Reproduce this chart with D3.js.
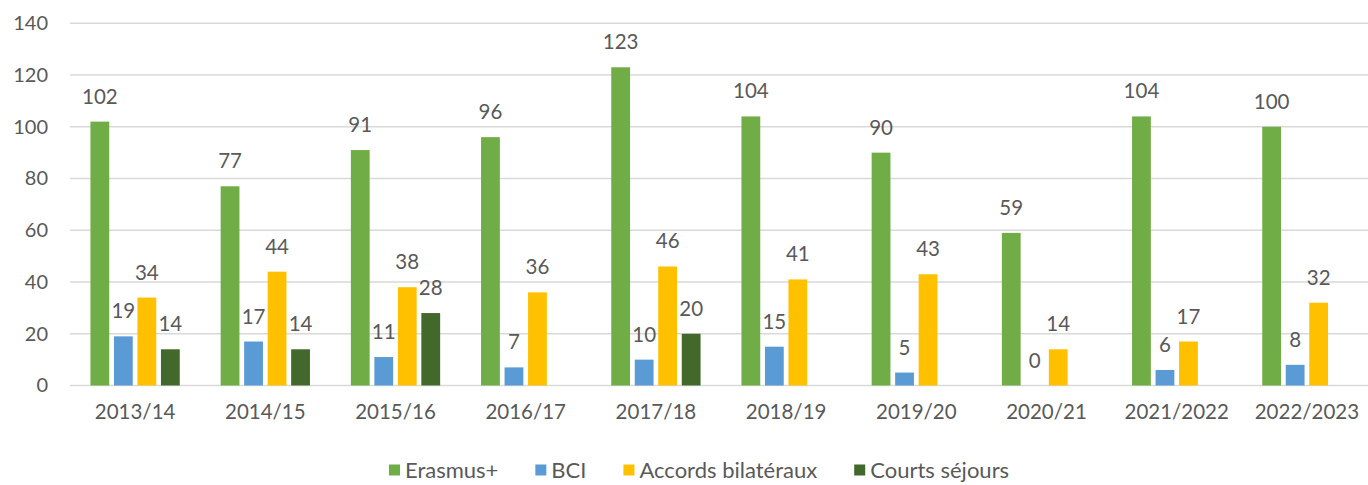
<!DOCTYPE html>
<html>
<head>
<meta charset="utf-8">
<script src="https://cdn.jsdelivr.net/npm/d3@7"></script>
<style>
  body { margin: 0; background: #fff; }
</style>
</head>
<body>
<div id="chart"></div>
<script>
var years = ["2013/14", "2014/15", "2015/16", "2016/17", "2017/18", "2018/19", "2019/20", "2020/21", "2021/2022", "2022/2023"];
var seriesNames = ["Erasmus+", "BCI", "Accords bilatéraux", "Courts séjours"];
var erasmus = [102, 77, 91, 96, 123, 104, 90, 59, 104, 100];
var bci = [19, 17, 11, 7, 10, 15, 5, 0, 6, 8];
var accords = [34, 44, 38, 36, 46, 41, 43, 14, 17, 32];
var courts = [14, 14, 28, null, 20, null, null, null, null, null];
var yTicks = [0, 20, 40, 60, 80, 100, 120, 140];
var colors = ["#70AD47", "#5B9BD5", "#FFC000", "#43682B"];

var fontFamily = "Lato, 'Open Sans', sans-serif";
var textColor = "#595959";

var width = 1368, height = 485;

var svg = d3.select("#chart")
  .append("svg")
    .attr("width", width)
    .attr("height", height);

// scales
var x = d3.scaleBand()
  .domain(years)
  .range([70, 1372]);

var groupHalf = 47;
var xSub = d3.scaleBand()
  .domain(seriesNames)
  .range([x.bandwidth() / 2 - groupHalf, x.bandwidth() / 2 + groupHalf])
  .paddingInner(0.2)
  .paddingOuter(0.1);

var y = d3.scaleLinear()
  .domain([0, 140])
  .range([385.5, 23.3]);

// gridlines
svg.append("g")
  .selectAll("line")
  .data(yTicks)
  .enter()
  .append("line")
    .attr("x1", 70)
    .attr("x2", width)
    .attr("y1", function(d) { return y(d); })
    .attr("y2", function(d) { return y(d); })
    .attr("stroke", "#D9D9D9")
    .attr("stroke-width", 1.5);

// Y axis labels
var yAxis = svg.append("g")
  .attr("transform", "translate(60,0)")
  .call(d3.axisLeft(y).tickValues(yTicks).tickSize(0).tickPadding(12));
yAxis.select(".domain").remove();
yAxis.selectAll("text")
  .attr("font-family", fontFamily)
  .attr("font-size", 20)
  .attr("fill", textColor);

// X axis labels
var xAxis = svg.append("g")
  .attr("transform", "translate(0,385.5)")
  .call(d3.axisBottom(x).tickSize(0).tickPadding(19));
xAxis.select(".domain").remove();
xAxis.selectAll("text")
  .attr("font-family", fontFamily)
  .attr("font-size", 20.5)
  .attr("fill", textColor);

// build rows
var allSeries = [erasmus, bci, accords, courts];
var rows = [];
years.forEach(function(yr, i) {
  seriesNames.forEach(function(s, j) {
    var v = allSeries[j][i];
    if (v !== null) rows.push({year: yr, series: s, value: v, idx: j});
  });
});

// bars
svg.append("g")
  .selectAll("rect")
  .data(rows)
  .enter()
  .append("rect")
    .attr("x", function(d) { return x(d.year) + xSub(d.series); })
    .attr("y", function(d) { return y(d.value); })
    .attr("width", xSub.bandwidth())
    .attr("height", function(d) { return y(0) - y(d.value); })
    .attr("fill", function(d) { return colors[d.idx]; });

// data labels
svg.append("g")
  .selectAll("text")
  .data(rows)
  .enter()
  .append("text")
    .attr("x", function(d) { return x(d.year) + xSub(d.series) + xSub.bandwidth() / 2; })
    .attr("y", function(d) { return y(d.value) - 18; })
    .attr("text-anchor", "middle")
    .attr("font-family", fontFamily)
    .attr("font-size", 20.5)
    .attr("fill", textColor)
    .text(function(d) { return d.value; });

// legend
var legend = svg.append("g");
var lx = 389;
var legendY = 470;
seriesNames.forEach(function(s, i) {
  legend.append("rect")
    .attr("x", lx)
    .attr("y", legendY - 5.5)
    .attr("width", 11)
    .attr("height", 11)
    .attr("fill", colors[i]);
  var t = legend.append("text")
    .attr("x", lx + 16)
    .attr("y", legendY)
    .attr("dy", "0.35em")
    .attr("font-family", fontFamily)
    .attr("font-size", 22)
    .attr("fill", textColor)
    .text(s);
  lx = lx + 16 + t.node().getComputedTextLength() + 37;
});
</script>
</body>
</html>
